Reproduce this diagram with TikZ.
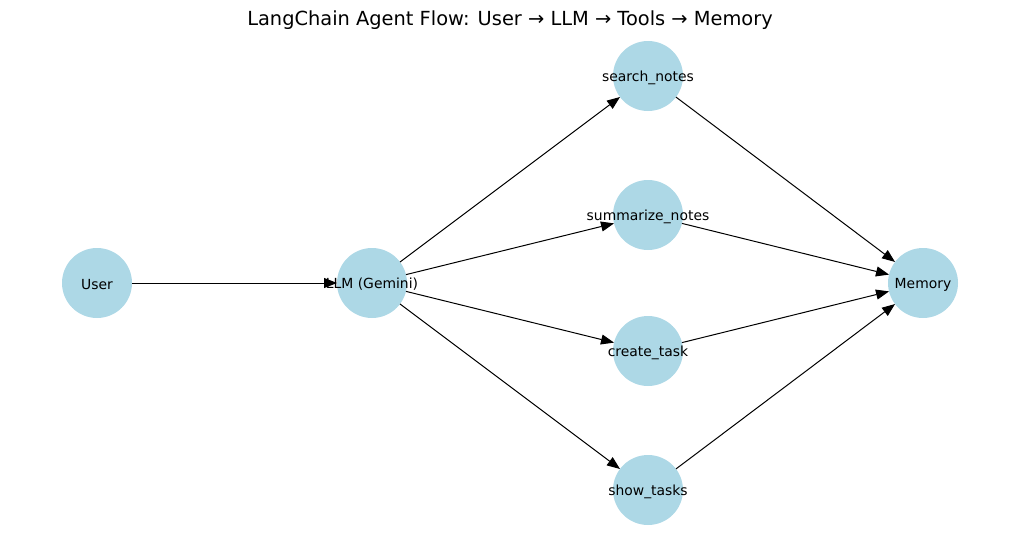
\documentclass[tikz,border=0pt]{standalone}
\usepackage{fontspec}
\setmainfont{DejaVu Sans}
\usetikzlibrary{arrows.meta}
\begin{document}
\begin{tikzpicture}[x=1pt,y=-1pt,
  vert/.style={circle,fill={rgb,255:red,173;green,216;blue,230},minimum size=70pt,inner sep=0pt,outer sep=0pt},
  lbl/.style={font=\fontsize{13.9}{16}\selectfont,inner sep=0pt,yshift=-1.5pt},
  edge/.style={line width=1pt,-{Triangle[length=13pt,width=10pt]}}]
\useasboundingbox (0,0) rectangle (1019,543);
\node[font=\fontsize{19.4}{22}\selectfont,yshift=-1pt] (title) at (510,19) {LangChain Agent Flow: User → LLM → Tools → Memory};
\node[vert] (user) at (97,283) {};
\node[vert] (llm) at (372,283) {};
\node[vert] (search) at (648,76) {};
\node[vert] (summ) at (648,215) {};
\node[vert] (create) at (648,351) {};
\node[vert] (show) at (648,490) {};
\node[vert] (mem) at (923,283) {};
\draw[edge] (user) -- (llm);
\draw[edge] (llm) -- (search);
\draw[edge] (llm) -- (summ);
\draw[edge] (llm) -- (create);
\draw[edge] (llm) -- (show);
\draw[edge] (search) -- (mem);
\draw[edge] (summ) -- (mem);
\draw[edge] (create) -- (mem);
\draw[edge] (show) -- (mem);
\node[lbl] (tuser) at (user.center) {User};
\node[lbl] (tllm) at (llm.center) {LLM (Gemini)};
\node[lbl] (tsearch) at (search.center) {search\_notes};
\node[lbl] (tsumm) at (summ.center) {summarize\_notes};
\node[lbl] (tcreate) at (create.center) {create\_task};
\node[lbl] (tshow) at (show.center) {show\_tasks};
\node[lbl] (tmem) at (mem.center) {Memory};
\end{tikzpicture}
\end{document}
